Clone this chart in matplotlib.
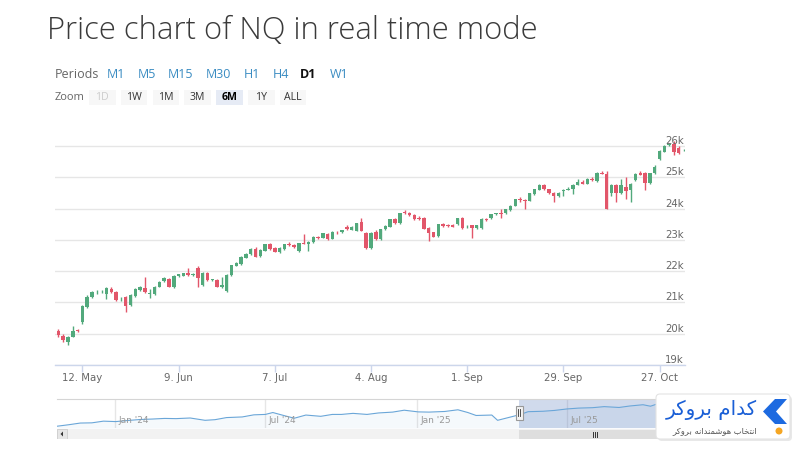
import numpy as np
import pandas as pd
import matplotlib
matplotlib.use("Agg")
import matplotlib.pyplot as plt
import matplotlib.dates as mdates
import matplotlib.transforms as mtransforms
from matplotlib.patches import Rectangle, FancyBboxPatch, Polygon, Circle

# ---------------- data ----------------
start_date = "2025-05-05"
opens = [20100, 19930, 19740, 19900, 20110, 20380, 20860, 21180, 21320, 21330,
         21270, 21430, 21340, 21100, 21170, 20920, 21210, 21400, 21460, 21270,
         21270, 21500, 21680, 21740, 21500, 21850, 21850, 21930, 21870, 22110,
         21560, 21940, 21720, 21720, 21500, 21360, 21870, 22170, 22230, 22430,
         22550, 22700, 22480, 22650, 22880, 22750, 22620, 22700, 22860, 22840,
         22640, 22890, 22880, 22930, 23100, 23070, 23180, 23040, 23250, 23250,
         23420, 23330, 23290, 23580, 23210, 22730, 23260, 23020, 23340, 23420,
         23660, 23530, 23900, 23850, 23790, 23690, 23700, 23370, 23240, 23120,
         23500, 23460, 23480, 23500, 23690, 23400, 23460, 23380, 23370, 23670,
         23690, 23810, 23860, 23850, 23950, 24090, 24290, 24280, 24250, 24450,
         24600, 24750, 24620, 24510, 24400, 24560, 24600, 24630, 24760, 24860,
         24800, 24960, 24880, 25150, 25110, 24500, 24750, 24500, 24700, 24600,
         24900, 25150, 25130, 24820, 25130, 25570, 25820, 26020, 26060, 25950,
         25860]
highs = [20150, 19980, 19920, 20250, 20160, 20920, 21250, 21380, 21400, 21390,
         21500, 21480, 21380, 21180, 21200, 21260, 21460, 21520, 21820, 21420,
         21520, 21680, 21800, 21780, 21870, 21920, 21950, 22100, 21930, 22150,
         21980, 21970, 21760, 21740, 21800, 21900, 22210, 22300, 22480, 22580,
         22730, 22780, 22700, 22880, 22900, 22780, 22770, 22880, 22920, 22870,
         22900, 23200, 22960, 23120, 23130, 23230, 23220, 23280, 23290, 23320,
         23460, 23440, 23550, 23700, 23240, 23250, 23300, 23360, 23460, 23680,
         23700, 23870, 23950, 23880, 23820, 23750, 23720, 23400, 23260, 23520,
         23530, 23500, 23510, 23710, 23720, 23460, 23480, 23490, 23690, 23700,
         23830, 23870, 23980, 24000, 24110, 24310, 24360, 24300, 24510, 24640,
         24770, 24780, 24640, 24530, 24530, 24620, 24680, 24770, 24950, 24900,
         24980, 25000, 25160, 25200, 25200, 24770, 24800, 24950, 25000, 24820,
         25150, 25200, 25160, 25150, 25400, 25870, 26020, 26100, 26150, 26000,
         25900]
lows = [19900, 19745, 19640, 19880, 20050, 20300, 20830, 21150, 21280, 21290,
        21100, 21300, 21060, 21050, 20700, 20880, 21180, 21380, 21300, 21150,
        21240, 21480, 21650, 21480, 21460, 21820, 21830, 21850, 21840, 21500,
        21520, 21700, 21680, 21480, 21470, 21330, 21850, 22150, 22210, 22410,
        22530, 22440, 22460, 22630, 22680, 22600, 22590, 22680, 22800, 22740,
        22600, 22860, 22650, 22910, 23040, 23050, 23000, 23020, 23200, 23230,
        23320, 23310, 23270, 23280, 22700, 22700, 23000, 23000, 23320, 23400,
        23510, 23510, 23840, 23760, 23640, 23640, 23340, 22950, 23080, 23100,
        23420, 23420, 23400, 23480, 23350, 23380, 23050, 23360, 23350, 23600,
        23670, 23790, 23690, 23830, 23930, 24070, 24220, 23980, 24230, 24430,
        24580, 24600, 24470, 24200, 24380, 24400, 24580, 24450, 24740, 24770,
        24780, 24870, 24860, 25100, 23980, 24400, 24200, 24480, 24300, 24200,
        24880, 25060, 24600, 24800, 25110, 25550, 25800, 26000, 25700, 25750,
        25840]
closes = [19960, 19800, 19900, 20100, 20090, 20885, 21180, 21320, 21340, 21335,
          21460, 21330, 21080, 21120, 20890, 21240, 21430, 21490, 21320, 21290,
          21500, 21660, 21780, 21500, 21850, 21900, 21930, 21870, 21900, 21770,
          21950, 21720, 21730, 21500, 21560, 21870, 22190, 22270, 22460, 22550,
          22710, 22460, 22680, 22860, 22720, 22620, 22750, 22860, 22830, 22760,
          22890, 22880, 22930, 23100, 23070, 23210, 23020, 23260, 23240, 23300,
          23340, 23420, 23530, 23290, 22730, 23230, 23040, 23340, 23440, 23660,
          23530, 23850, 23860, 23780, 23670, 23670, 23360, 23210, 23100, 23500,
          23440, 23440, 23420, 23690, 23370, 23420, 23380, 23470, 23670, 23650,
          23810, 23850, 23840, 23980, 24090, 24290, 24280, 24250, 24490, 24620,
          24750, 24620, 24490, 24400, 24510, 24600, 24630, 24750, 24860, 24790,
          24960, 24900, 25140, 25120, 24000, 24750, 24500, 24750, 24550, 24800,
          25120, 25080, 24820, 25130, 25340, 25850, 26000, 26050, 25820, 25780,
          25870]

x_tick_dates = ["2025-05-12", "2025-06-09", "2025-07-07", "2025-08-04",
                "2025-09-01", "2025-09-29", "2025-10-27"]
x_tick_labels = ["12. May", "9. Jun", "7. Jul", "4. Aug", "1. Sep", "29. Sep", "27. Oct"]
y_ticks = [19000, 20000, 21000, 22000, 23000, 24000, 25000, 26000]
y_tick_labels = ["19k", "20k", "21k", "22k", "23k", "24k", "25k", "26k"]

nav_dates = ["2023-10-23", "2023-11-06", "2023-11-20", "2023-12-04", "2023-12-18",
             "2024-01-02", "2024-01-16", "2024-02-01", "2024-02-15", "2024-03-01",
             "2024-03-15", "2024-04-01", "2024-04-19", "2024-05-01", "2024-05-15",
             "2024-06-03", "2024-06-17", "2024-07-01", "2024-07-10", "2024-07-25",
             "2024-08-05", "2024-08-19", "2024-09-06", "2024-09-20", "2024-10-01",
             "2024-10-15", "2024-11-01", "2024-11-15", "2024-12-02", "2024-12-16",
             "2025-01-02", "2025-01-15", "2025-02-03", "2025-02-19", "2025-03-03",
             "2025-03-13", "2025-04-01", "2025-04-08", "2025-04-21", "2025-05-05",
             "2025-05-15", "2025-06-02", "2025-06-16", "2025-07-01", "2025-07-15",
             "2025-08-01", "2025-08-15", "2025-09-02", "2025-09-15", "2025-10-01",
             "2025-10-10", "2025-10-20", "2025-11-03"]
nav_values = [14500, 15200, 16000, 16100, 16900, 16700, 17200, 17700, 17900, 18200,
              18100, 18400, 17300, 17600, 18600, 18900, 19900, 20100, 21000, 19400,
              18300, 19800, 19200, 20100, 20100, 20600, 20100, 20800, 21200, 22100,
              21300, 21200, 21500, 22300, 21000, 19600, 19800, 17300, 18600, 20000,
              21400, 21600, 22000, 22700, 23100, 23300, 23800, 23400, 24100, 24700,
              24000, 25300, 26000]
nav_tick_dates = ["2024-01-01", "2024-07-01", "2025-01-01", "2025-07-01"]
nav_tick_labels = ["Jan '24", "Jul '24", "Jan '25", "Jul '25"]

title_text = "Price chart of NQ in real time mode"
periods = ["M1", "M5", "M15", "M30", "H1", "H4", "D1", "W1"]
active_period = "D1"
zoom_buttons = ["1D", "1W", "1M", "3M", "6M", "1Y", "ALL"]
active_zoom = "6M"
disabled_zoom = "1D"
brand_name = "\uFEAE\uFB90\uFEED\uFEAE\uFE91 \uFEE1\uFE8D\uFEAA\uFB90"  # کدام بروکر (visual order)
brand_tag = ("\uFEAE\uFB90\uFEED\uFEAE\uFE91 "
             "\uFEEA\uFEE7\uFE8D\uFEAA\uFEE8\uFEE4\uFEB7\uFEEE\uFEEB "
             "\uFE8F\uFE8E\uFEA8\uFE98\uFEE7\uFE8D")  # انتخاب هوشمندانه بروکر

# ---------------- style ----------------
UP = "#52a97c"
DOWN = "#e2566a"
GRID = "#e6e6e6"
AXIS = "#ccd6eb"
UI_FONT = ["Open Sans", "DejaVu Sans"]

W, H = 800, 450
fig = plt.figure(figsize=(8, 4.5), dpi=100)
fig.patch.set_facecolor("white")

def fx(px):
    return px / W

def fy(py):
    return 1 - py / H

# title
fig.text(fx(47), fy(31), title_text, fontsize=22.3, family=UI_FONT, fontweight="light",
         color="#3a3a3a", ha="left", va="center")

# overlay (pixel coordinates) for UI
ov = fig.add_axes([0, 0, 1, 1], zorder=5)
ov.set_xlim(0, W)
ov.set_ylim(H, 0)
ov.axis("off")
ov.patch.set_alpha(0)

# Periods row
ov.text(55, 75, "Periods", fontsize=9, family=UI_FONT, color="#666666", va="center", ha="left")
period_x = [107, 138, 168, 206, 244, 273, 300, 330]
for p, x in zip(periods, period_x):
    if p == active_period:
        ov.text(x, 75, p, fontsize=9, family=UI_FONT, color="#111111", fontweight="bold",
                va="center", ha="left")
    else:
        ov.text(x, 75, p, fontsize=9, family=UI_FONT, color="#3a8cc2", va="center", ha="left")

# Zoom row
ov.text(55, 97.5, "Zoom", fontsize=8, family=UI_FONT, color="#666666", va="center", ha="left")
for k, b in enumerate(zoom_buttons):
    x0 = 89 + 31.8 * k
    fc = "#e6ebf5" if b == active_zoom else "#f7f7f7"
    ov.add_patch(Rectangle((x0, 89.5), 26.5, 15.5, facecolor=fc, edgecolor="none"))
    col = "#cccccc" if b == disabled_zoom else ("#000000" if b == active_zoom else "#333333")
    fw = "bold" if b == active_zoom else "normal"
    ov.text(x0 + 13.25, 97.5, b, fontsize=7.6, family=UI_FONT, color=col, fontweight=fw,
            ha="center", va="center")

# ---------------- main candlestick axes ----------------
ax = fig.add_axes([fx(55), fy(365), 630 / W, 245 / H])
dates = pd.bdate_range(start_date, periods=len(opens))
idx = np.arange(len(opens))
o = np.array(opens, float)
h = np.array(highs, float)
l = np.array(lows, float)
c = np.array(closes, float)
colors = [UP if cc >= oo else DOWN for oo, cc in zip(o, c)]
ax.vlines(idx, l, h, colors=colors, linewidth=1.0, zorder=2)
body_h = np.maximum(np.abs(c - o), 18)
ax.bar(idx, body_h, bottom=np.minimum(o, c), width=0.72, color=colors, linewidth=0, zorder=3)

ax.set_xlim(-0.7, 130.3)
ax.set_ylim(19000, 26830)
ax.set_yticks(y_ticks)
ax.yaxis.grid(True, color=GRID, linewidth=1)
ax.set_axisbelow(True)
ax.tick_params(axis="y", length=0, labelleft=False)
for s in ["top", "right", "left"]:
    ax.spines[s].set_visible(False)
ax.spines["bottom"].set_color(AXIS)
ax.spines["bottom"].set_linewidth(1)

tick_pos = [dates.get_loc(pd.Timestamp(d)) for d in x_tick_dates]
ax.set_xticks(tick_pos)
ax.set_xticklabels(x_tick_labels)
ax.tick_params(axis="x", direction="out", length=5, width=1, color=AXIS,
               labelcolor="#666666", labelsize=7.3, pad=0.5)

blend = mtransforms.blended_transform_factory(ax.transAxes, ax.transData)
for v, lab in zip(y_ticks, y_tick_labels):
    ax.text(0.998, v, lab, transform=blend, ha="right", va="bottom", fontsize=7.3,
            color="#666666", zorder=4)

# ---------------- navigator ----------------
nav = fig.add_axes([fx(57), fy(428), 628 / W, 29 / H])
nx = mdates.date2num(pd.to_datetime(nav_dates))
d1 = mdates.date2num(pd.Timestamp(nav_tick_dates[0]))
d4 = mdates.date2num(pd.Timestamp(nav_tick_dates[-1]))
scale = (567 - 115) / (d4 - d1)
left = d1 - (115 - 57) / scale
right = d1 + (685 - 115) / scale
nav.set_xlim(left, right)
nav.set_ylim(13650, 27425)
nav.fill_between(nx, nav_values, 13650, color="#4a8fc7", alpha=0.05, linewidth=0)
nav.plot(nx, nav_values, color="#6aa6d8", linewidth=0.8)
for d, lab in zip(nav_tick_dates, nav_tick_labels):
    dn = mdates.date2num(pd.Timestamp(d))
    nav.axvline(dn, color=GRID, linewidth=1, zorder=0)
    nav.text(dn + 3 / scale, 0.12, lab, transform=mtransforms.blended_transform_factory(
        nav.transData, nav.transAxes), fontsize=6.5, color="#999999", ha="left", va="bottom",
        family=["DejaVu Sans"])
nav.set_xticks([])
nav.set_yticks([])
for s in ["right", "left", "bottom"]:
    nav.spines[s].set_visible(False)
nav.spines["top"].set_color("#d5d5d5")
sel_start = mdates.date2num(dates[0]) - 1
nav.axvspan(sel_start, right, color=(102 / 255, 133 / 255, 194 / 255), alpha=0.3, linewidth=0)
# handle
hb = mtransforms.blended_transform_factory(nav.transData, nav.transAxes)
hw = 7 / scale
nav.add_patch(Rectangle((sel_start - hw / 2, 0.27), hw, 0.5, transform=hb,
                        facecolor="#f2f2f2", edgecolor="#999999", linewidth=0.8, zorder=6,
                        clip_on=False))
for off in (-1.2, 1.2):
    nav.plot([sel_start + off / scale] * 2, [0.4, 0.64], transform=hb, color="#333333",
             linewidth=0.6, zorder=7)

# scrollbar
sb = fig.add_axes([fx(57), fy(439), 628 / W, 10 / H])
sb.set_xlim(left, right)
sb.set_ylim(0, 1)
sb.axis("off")
sb.add_patch(Rectangle((left, 0), right - left, 1, facecolor="#f2f2f2", edgecolor="none"))
sb.add_patch(Rectangle((sel_start, 0.05), right - sel_start, 0.9, facecolor="#dedede",
                       edgecolor="none"))
btn_w = 10 / scale
sb.add_patch(Rectangle((left, 0), btn_w, 1, facecolor="#e6e6e6", edgecolor="#cccccc",
                       linewidth=0.6))
sb.add_patch(Polygon([(left + 3.5 / scale, 0.5), (left + 6 / scale, 0.25),
                      (left + 6 / scale, 0.75)], closed=True, facecolor="#333333"))
mid = (sel_start + right) / 2 - 7 / scale
for off in (-2, 0, 2):
    sb.plot([mid + off / scale] * 2, [0.25, 0.75], color="#333333", linewidth=0.7)

# ---------------- brand logo ----------------
lg = fig.add_axes([0, 0, 1, 1], zorder=10)
lg.set_xlim(0, W)
lg.set_ylim(H, 0)
lg.axis("off")
lg.patch.set_alpha(0)
lg.add_patch(FancyBboxPatch((657, 395), 134, 45, boxstyle="round,pad=0,rounding_size=4",
                            facecolor="#d9d9d9", edgecolor="none", alpha=0.6,
                            transform=lg.transData + mtransforms.Affine2D().translate(1, -1)))
lg.add_patch(FancyBboxPatch((656, 394), 134, 45, boxstyle="round,pad=0,rounding_size=4",
                            facecolor="white", edgecolor="#e3e3e3", linewidth=0.8))
lg.add_patch(Polygon([(787, 399), (775, 399), (763, 411.5), (775, 424), (787, 424),
                      (776, 411.5)], closed=True, facecolor="#1d6ae0", edgecolor="none"))
lg.text(757, 410, brand_name, fontsize=14.3, fontweight="normal", color="#1a5fd6",
        family=["DejaVu Sans"], ha="right", va="center")
lg.text(757, 431, brand_tag, fontsize=6, color="#555555", family=["DejaVu Sans"],
        ha="right", va="center")
lg.add_patch(Circle((779, 431), 3.5, facecolor="#f5a623", edgecolor="none"))

fig.savefig("out.png", dpi=100, facecolor="white")
